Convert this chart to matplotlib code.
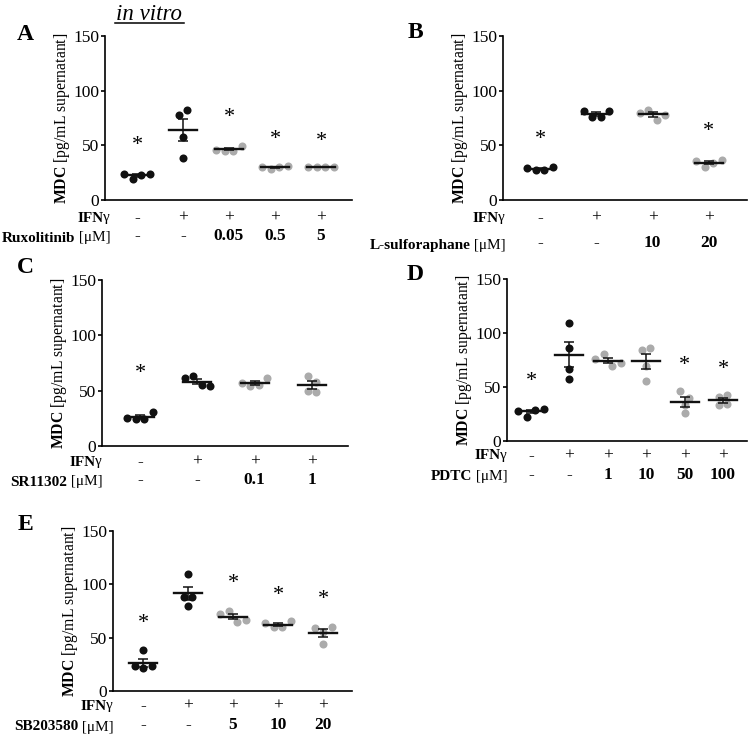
import numpy as np
import matplotlib
matplotlib.use("Agg")
import matplotlib.pyplot as plt
import matplotlib.transforms as mtrans
from matplotlib.lines import Line2D

plt.rcParams['font.family'] = ['Liberation Serif', 'DejaVu Serif']
plt.rcParams['mathtext.fontset'] = 'custom'
plt.rcParams['mathtext.rm'] = 'Liberation Serif'
plt.rcParams['mathtext.bf'] = 'Liberation Serif:bold'

BLACK = '#111111'
GREY = '#ababab'

# ---- data ----
a_vals = [[24, 19, 23, 24], [78, 82, 58, 38], [46, 45, 45, 49], [30, 28, 30, 31], [30, 30, 30, 30]]
a_ifn = ['-', '+', '+', '+', '+']
a_dose = ['-', '-', '0.05', '0.5', '5']
a_star = [50, None, 75, 55.5, 53.5]
a_col = ['k', 'k', 'g', 'g', 'g']

b_vals = [[29, 27, 27, 30.5], [81, 76, 76, 81.5], [80, 82, 73, 78], [36, 30.5, 33.5, 37]]
b_ifn = ['-', '+', '+', '+']
b_dose = ['-', '-', '10', '20']
b_star = [55.5, None, None, 62.5]
b_col = ['k', 'k', 'g', 'g']

c_vals = [[25, 24, 24, 31], [61, 63, 55, 54], [57, 54, 55, 61], [63.5, 50, 58, 49]]
c_ifn = ['-', '+', '+', '+']
c_dose = ['-', '-', '0.1', '1']
c_star = [65.5, None, None, None]
c_col = ['k', 'k', 'g', 'g']

d_vals = [[28, 22.5, 29, 30], [109, 86, 67, 57], [76, 81, 69, 72], [84, 86, 69, 56], [46, 40, 33, 26], [41, 43, 33, 34]]
d_ifn = ['-', '+', '+', '+', '+', '+']
d_dose = ['-', '-', '1', '10', '50', '100']
d_star = [55, None, None, None, 70, 66.5]
d_col = ['k', 'k', 'g', 'g', 'g', 'g']

e_vals = [[38, 23.5, 22, 23], [110, 88, 88, 80], [72, 75, 65, 66.5], [63.5, 60, 60, 65.5], [59, 55.5, 60, 44]]
e_ifn = ['-', '+', '+', '+', '+']
e_dose = ['-', '-', '5', '10', '20']
e_star = [63.5, None, 101, 90, 86]
e_col = ['k', 'k', 'g', 'g', 'g']

W, H = 748, 749
fig = plt.figure(figsize=(W / 100, H / 100), dpi=100)
renderer = fig.canvas.get_renderer()


def two_part(ax, x, y, bold, rest, fs):
    tr = ax.transAxes
    base = mtrans.offset_copy(tr, fig=fig, x=x * 72 / fig.dpi, units='points')
    t = ax.text(0, y, rest, ha='right', va='center', fontsize=fs, transform=base)
    w = t.get_window_extent(renderer).width
    off = mtrans.offset_copy(tr, fig=fig, x=(x - w) * 72 / fig.dpi, units='points')
    ax.text(0, y, bold, ha='right', va='center', fontsize=fs, fontweight='bold', transform=off)


def panel(box, x0, step, vals, ifn, dose, stars, cols, drug, letter, rows, lab_dx=0):
    left, top, right, bottom = box
    ax = fig.add_axes([left / W, 1 - bottom / H, (right - left) / W, (bottom - top) / H])
    n = len(vals)
    ax.set_xlim((left - x0) / step, (right - x0) / step)
    ax.set_ylim(0, 150)
    ax.set_yticks([0, 50, 100, 150])
    ax.set_xticks([])
    for s in ['top', 'right']:
        ax.spines[s].set_visible(False)
    for s in ['left', 'bottom']:
        ax.spines[s].set_linewidth(1.2)
    ax.tick_params(axis='y', length=3, width=1.2, pad=1, labelsize=12.5)
    ax.set_ylabel(r'$\mathbf{MDC}$ [pg/mL supernatant]', fontsize=11.3)
    ax.yaxis.set_label_coords(-33 / (right - left), 0.5)

    hpx = bottom - top
    ypx = hpx / 150.0
    d = 8.5  # spacing of side-by-side points, px
    for i, v in enumerate(vals):
        v = np.array(v, dtype=float)
        c = BLACK if cols[i] == 'k' else GREY
        # simple swarm: cluster overlapping points and spread them
        order = np.argsort(v)
        xs = np.zeros(len(v))
        clusters = [[order[0]]]
        for k in order[1:]:
            if (v[k] - v[clusters[-1][-1]]) * ypx < 7.5:
                clusters[-1].append(k)
            else:
                clusters.append([k])
        for cl in clusters:
            cl = sorted(cl)
            m = len(cl)
            for j, k in enumerate(cl):
                xs[k] = (j - (m - 1) / 2) * d / step
        ax.plot(i + xs, v, 'o', ms=5.8, color=c, mec='none', zorder=2)
        mean = v.mean()
        sem = v.std(ddof=1) / np.sqrt(len(v))
        hw = 14.0 / step
        ax.plot([i - hw, i + hw], [mean, mean], color=BLACK, lw=1.7, zorder=3)
        ax.errorbar(i, mean, yerr=sem, color=BLACK, lw=1.1, capsize=3.5, capthick=1.1, zorder=3)
        if stars[i] is not None:
            ax.text(i, stars[i], '*', ha='center', va='center', fontsize=16)
    r1, r2 = rows
    tr = mtrans.blended_transform_factory(ax.transData, ax.transAxes)
    for i in range(n):
        ax.text(i, -r1 / hpx, ifn[i], ha='center', va='center', fontsize=12.5, transform=tr)
        bw = 'normal' if dose[i] == '-' else 'bold'
        ax.text(i, -r2 / hpx, dose[i], ha='center', va='center', fontsize=12.5, fontweight=bw, transform=tr)
    two_part(ax, lab_dx, -r1 / hpx, 'IFN', '\u03b3', 11)
    two_part(ax, lab_dx + 1, -(r2 + 2) / hpx, drug, ' [\u03bcM]', 11)
    fig.text(letter[1] / W, 1 - letter[2] / H, letter[0], fontsize=17, fontweight='bold',
             ha='center', va='center')
    return ax


panel((105, 36, 352, 200), 137, 46, a_vals, a_ifn, a_dose, a_star, a_col,
      'Ruxolitinib', ('A', 25, 35), (18, 36), lab_dx=5)
panel((503, 36, 747, 200), 540, 56.3, b_vals, b_ifn, b_dose, b_star, b_col,
      'L-sulforaphane', ('B', 415, 33), (18, 43), lab_dx=2)
panel((102, 280, 348, 446), 140, 57.3, c_vals, c_ifn, c_dose, c_star, c_col,
      'SR11302', ('C', 25, 267), (16, 34))
panel((507, 279, 747, 441), 531, 38.4, d_vals, d_ifn, d_dose, d_star, d_col,
      'PDTC', ('D', 415, 275), (15, 34))
panel((113, 531, 352, 691), 143, 45, e_vals, e_ifn, e_dose, e_star, e_col,
      'SB203580', ('E', 25, 525), (15, 34))

fig.text(149 / W, 1 - 14 / H, 'in vitro', fontsize=16.5, style='italic', ha='center', va='center')
fig.add_artist(Line2D([115 / W, 184 / W], [1 - 23 / H, 1 - 23 / H], color='black', lw=1.1))

fig.savefig('out.png', dpi=100)
